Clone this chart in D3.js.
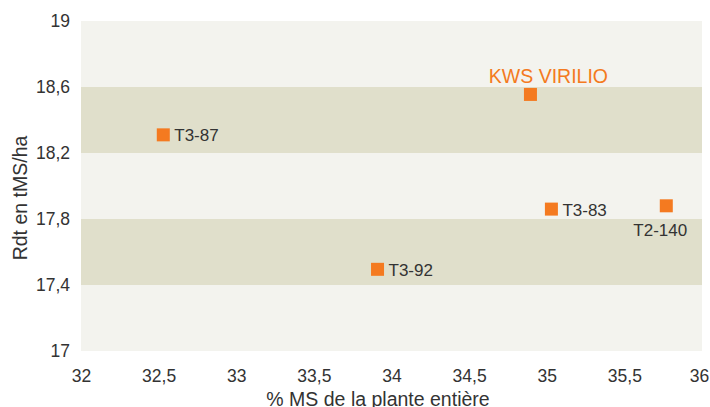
<!DOCTYPE html>
<html><head><meta charset="utf-8">
<script src="https://cdn.jsdelivr.net/npm/d3@7"></script>
<style>
body{margin:0;background:#fff;}
text{font-family:"Liberation Sans",Arial,Helvetica,sans-serif;}
</style></head>
<body><svg id="c" width="710" height="407"></svg>
<script>
const names = ["T3-87","KWS VIRILIO","T3-83","T2-140","T3-92"];
const msValues = [32.53, 34.895, 35.03, 35.77, 33.91];
const rdtValues = [18.31, 18.555, 17.86, 17.88, 17.495];
const xTicks = [32,32.5,33,33.5,34,34.5,35,35.5,36];
const yTicks = [17,17.4,17.8,18.2,18.6,19];
const bands = [[18.2,18.6],[17.4,17.8]];

const svg = d3.select("#c");
const m = {l:81, r:702, t:21, b:351};
const x = d3.scaleLinear().domain([32,36]).range([m.l,m.r]);
const y = d3.scaleLinear().domain([17,19]).range([m.b,m.t]);
const fmt = d => String(d).replace(".", ",");

svg.append("rect").attr("x",m.l).attr("y",m.t).attr("width",m.r-m.l).attr("height",m.b-m.t).attr("fill","#f3f3ee");
svg.selectAll(".band").data(bands).join("rect")
  .attr("x",m.l).attr("width",m.r-m.l)
  .attr("y",d=>y(d[1])).attr("height",d=>y(d[0])-y(d[1]))
  .attr("fill","#e0dfcb");

const xa = svg.append("g").attr("transform",`translate(0,${m.b})`)
  .call(d3.axisBottom(x).tickValues(xTicks).tickFormat(fmt).tickSize(0).tickPadding(19));
xa.select(".domain").remove();
xa.selectAll("text").attr("font-size",17.5).attr("fill","#333").style("font-family","'Liberation Sans',Arial,sans-serif");
xa.selectAll("text").filter(d=>d===36).attr("dx",-3);

const ya = svg.append("g").attr("transform",`translate(${m.l},0)`)
  .call(d3.axisLeft(y).tickValues(yTicks).tickFormat(fmt).tickSize(0).tickPadding(11));
ya.select(".domain").remove();
ya.selectAll("text").attr("font-size",17.5).attr("fill","#333").style("font-family","'Liberation Sans',Arial,sans-serif");

svg.append("text").attr("x",378).attr("y",406).attr("text-anchor","middle")
  .attr("font-size",19.5).attr("fill","#333").text("% MS de la plante entière");
svg.append("text").attr("transform","translate(27,198) rotate(-90)").attr("text-anchor","middle")
  .attr("font-size",19.5).attr("fill","#333").text("Rdt en tMS/ha");

const pts = names.map((n,i)=>({n, x:msValues[i], y:rdtValues[i]}));
svg.selectAll(".pt").data(pts).join("rect")
  .attr("x",d=>x(d.x)-6.5).attr("y",d=>y(d.y)-6.5).attr("width",13).attr("height",13)
  .attr("fill","#f47a20");

svg.selectAll(".lab").data(pts).join("text")
  .attr("x",d=> d.n==="KWS VIRILIO" ? x(d.x)+18 : d.n==="T2-140" ? x(d.x)-6 : x(d.x)+11)
  .attr("y",d=> d.n==="KWS VIRILIO" ? y(d.y)-11 : d.n==="T2-140" ? y(d.y)+30 : y(d.y)+6.5)
  .attr("text-anchor",d=> d.n==="KWS VIRILIO" || d.n==="T2-140" ? "middle" : "start")
  .attr("font-size",d=> d.n==="KWS VIRILIO" ? 19.5 : 17)
  .attr("fill",d=> d.n==="KWS VIRILIO" ? "#f47a20" : "#333")
  .text(d=>d.n);
</script></body></html>
